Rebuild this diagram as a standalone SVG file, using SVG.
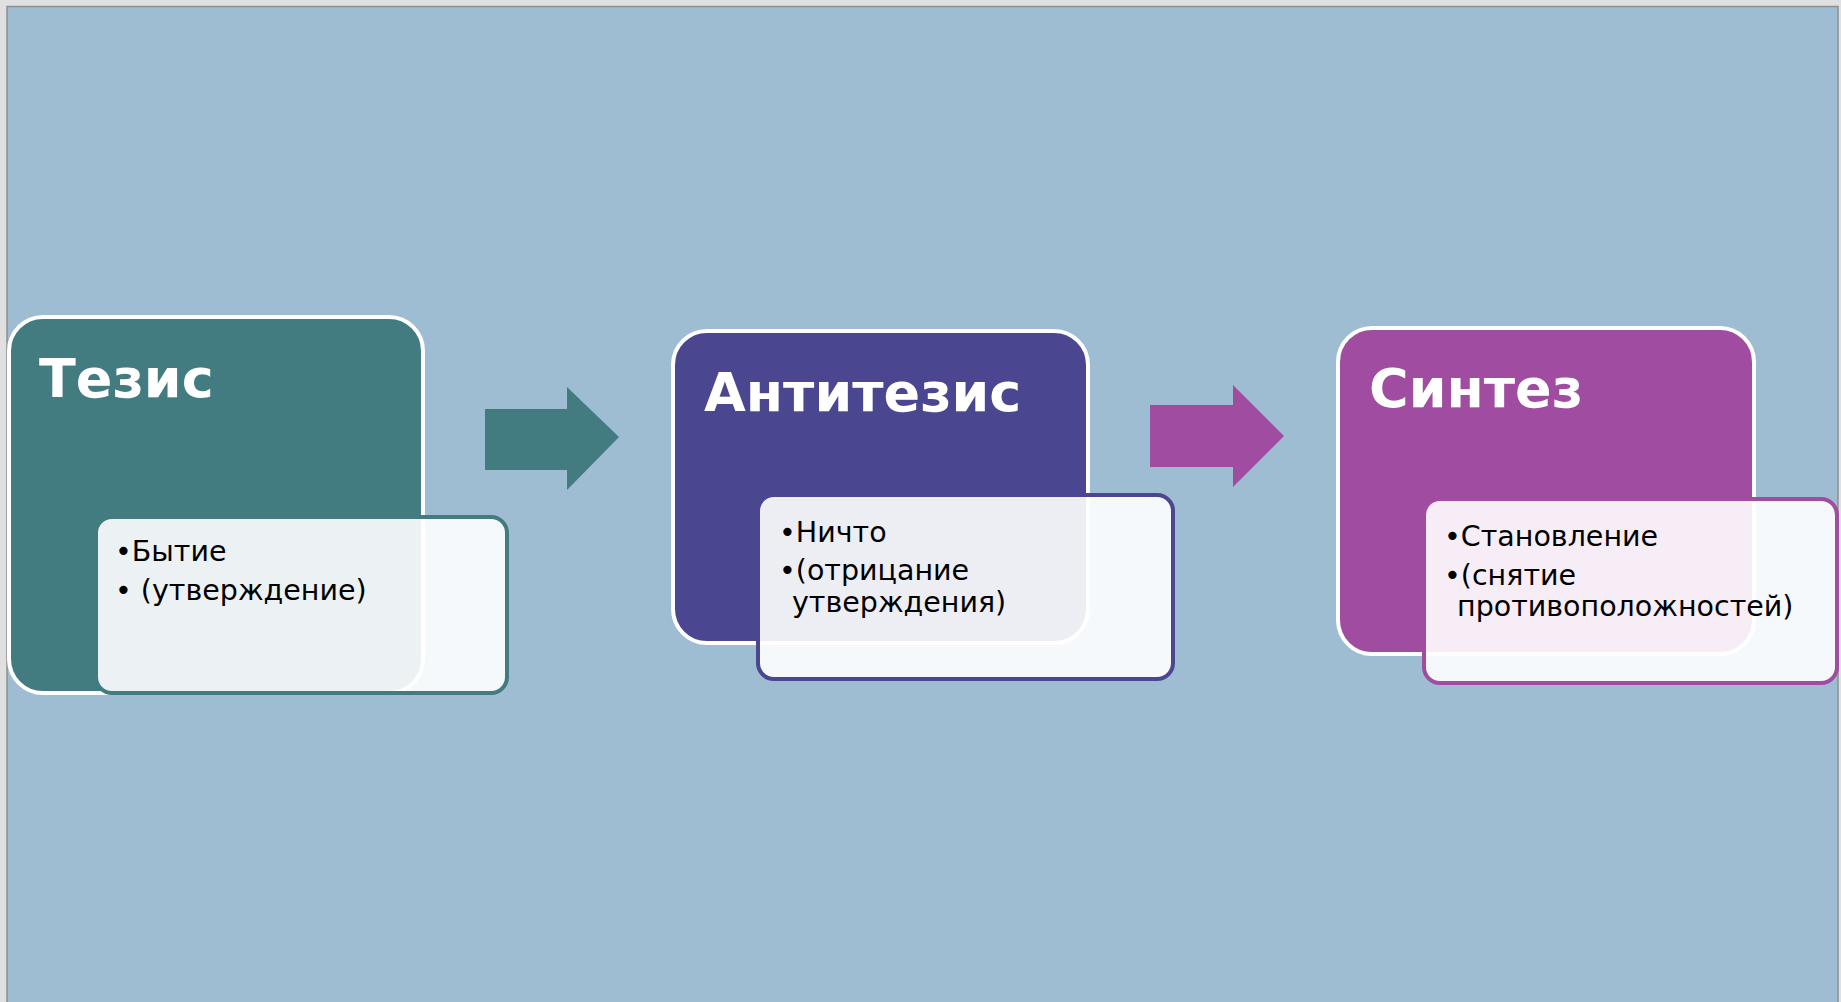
<svg xmlns="http://www.w3.org/2000/svg" width="1841" height="1002" viewBox="0 0 1841 1002">
<style>
.title{font-family:"DejaVu Sans","Liberation Sans",sans-serif;font-weight:bold;font-size:54px;fill:#ffffff}
.item{font-family:"DejaVu Sans","Liberation Sans",sans-serif;font-size:28.5px;fill:#000000}
.main{stroke:#ffffff;stroke-width:4}
.sub{fill:#ffffff;fill-opacity:0.9;stroke-width:4}
</style>
<rect x="0" y="0" width="1841" height="1002" fill="#e0e0e0"/>
<rect x="7" y="6.5" width="1831" height="1000" fill="#9ebdd3" stroke="#8c8f94" stroke-width="1.5"/>
<g id="connectors">
<polygon points="485,409 567,409 567,387 619,437 567,490 567,470 485,470" fill="#427c80"/>
<polygon points="1150,405 1233,405 1233,385 1284,436 1233,487 1233,467 1150,467" fill="#a04ca0"/>
</g>
<g id="tesis">
<rect class="main" x="9" y="317" width="414" height="376" rx="34" fill="#427c80"/>
<text class="title" x="39" y="397">Тезис</text>
<rect class="sub" x="96" y="517" width="411" height="176" rx="16" stroke="#427c80"/>
<text class="item" x="115" y="561">•Бытие</text>
<text class="item" x="115" y="600">• (утверждение)</text>
</g>
<g id="antitesis">
<rect class="main" x="673" y="331" width="415" height="312" rx="34" fill="#4a4690"/>
<text class="title" x="704" y="411">Антитезис</text>
<rect class="sub" x="758" y="495" width="415" height="184" rx="16" stroke="#4a4690"/>
<text class="item" x="779" y="542">•Ничто</text>
<text class="item" x="779" y="580">•(отрицание</text>
<text class="item" x="792" y="612">утверждения)</text>
</g>
<g id="sintez">
<rect class="main" x="1338" y="328" width="416" height="326" rx="34" fill="#a04ca0"/>
<text class="title" x="1369" y="407">Синтез</text>
<rect class="sub" x="1424" y="499" width="413" height="184" rx="16" stroke="#a04ca0"/>
<text class="item" x="1444" y="546">•Становление</text>
<text class="item" x="1444" y="585">•(снятие</text>
<text class="item" x="1457" y="616">противоположностей)</text>
</g>
</svg>
